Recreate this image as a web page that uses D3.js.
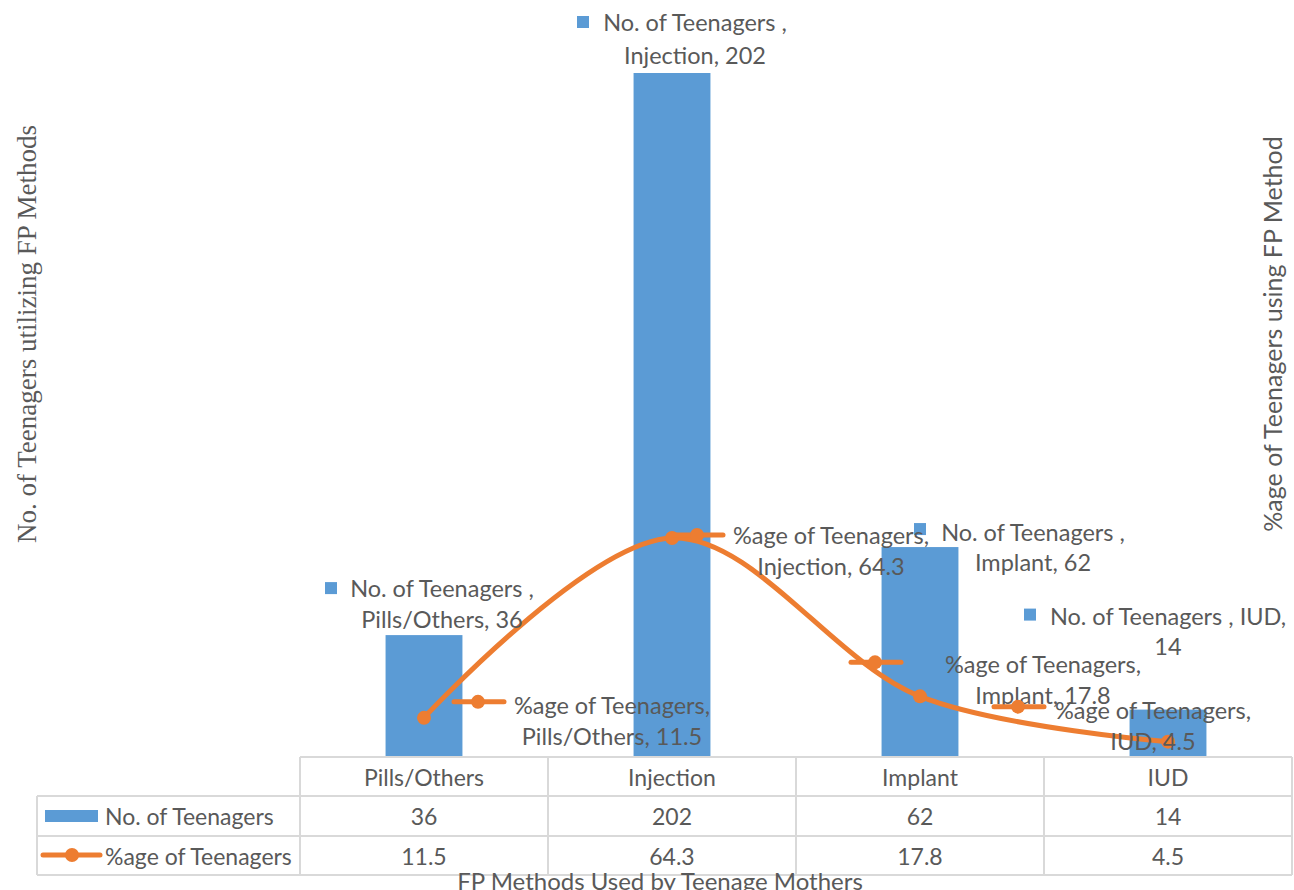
<!DOCTYPE html>
<html><head><meta charset="utf-8">
<script src="https://cdn.jsdelivr.net/npm/d3@7"></script>
<style>
body{margin:0;background:#fff}
text{font-family:Lato,"Open Sans",sans-serif;fill:#595959}
</style></head>
<body><svg id="c" width="1294" height="890"></svg>
<script>
const categories = ["Pills/Others","Injection","Implant","IUD"];
const teenCounts = [36,202,62,14];
const teenPercent = [11.5,64.3,17.8,4.5];
const seriesNames = ["No. of Teenagers","%age of Teenagers"];
const xTitle = "FP Methods Used by Teenage Mothers";
const yLeftTitle = "No. of Teenagers utilizing FP Methods";
const yRightTitle = "%age of Teenagers using FP Method";

const BLUE="#5B9BD5", ORANGE="#ED7D31", GRID="#D9D9D9";
const svg=d3.select("#c");
const plotL=300, plotR=1292, base=757;
const x=d3.scaleBand().domain(categories).range([plotL,plotR]).padding(0);
const yL=d3.scaleLinear().domain([0,202]).range([base,73]);
const yR=d3.scaleLinear().domain([0,64.3]).range([base,538]);
const bw=x.bandwidth()*0.31;
const cx=c=>x(c)+x.bandwidth()/2;

// bars
svg.append("g").selectAll("rect").data(categories).join("rect")
  .attr("x",c=>cx(c)-bw/2).attr("width",bw)
  .attr("y",(c,i)=>yL(teenCounts[i])).attr("height",(c,i)=>base-yL(teenCounts[i]))
  .attr("fill",BLUE);

// line
const pts=categories.map((c,i)=>[cx(c),yR(teenPercent[i])]);
svg.append("path").attr("d",d3.line().curve(d3.curveCatmullRom.alpha(0.5))(pts))
  .attr("fill","none").attr("stroke",ORANGE).attr("stroke-width",5).attr("stroke-linecap","round");
svg.append("g").selectAll("circle").data(pts).join("circle")
  .attr("cx",d=>d[0]).attr("cy",d=>d[1]).attr("r",7).attr("fill",ORANGE);

const FS=23.5, TFS=23;
function lineKey(g,kx,ky,len1,len2){
  g.append("line").attr("x1",kx-len1).attr("x2",kx+len2).attr("y1",ky).attr("y2",ky)
   .attr("stroke",ORANGE).attr("stroke-width",5).attr("stroke-linecap","round");
  g.append("circle").attr("cx",kx).attr("cy",ky).attr("r",7).attr("fill",ORANGE);
}
function textBlock(g,tx,ty,lines,lh){
  lines.forEach((t,j)=>g.append("text").attr("x",tx).attr("y",ty+j*lh)
    .attr("text-anchor","middle").attr("dominant-baseline","central")
    .style("font-size",FS+"px").text(t));
}
// bar data labels (offsets from bar top-center)
const barLab=[{kx:-93,ky:-47,tx:18,ty:-47,lh:31},{kx:-89,ky:-51,tx:23,ty:-51,lh:33},
              {kx:0,ky:-18,tx:113,ty:-15,lh:30},{kx:-138,ky:-95,tx:0,ty:-94,lh:30}];
const gl=svg.append("g");
categories.forEach((c,i)=>{
  const px=cx(c), py=yL(teenCounts[i]), L=barLab[i];
  gl.append("rect").attr("x",px+L.kx-6).attr("y",py+L.ky-6).attr("width",12).attr("height",12).attr("fill",BLUE);
  const lines = i===3 ? [seriesNames[0]+" , "+c+",", String(teenCounts[i])]
                      : [seriesNames[0]+" ,", c+", "+teenCounts[i]];
  textBlock(gl,px+L.tx,py+L.ty,lines,L.lh);
});
// line data labels (offsets from point)
const lineLab=[{kx:54,ky:-16,tx:188,ty:-13},{kx:25,ky:-3,tx:159,ty:-3},
               {kx:-45,ky:-34,tx:123,ty:-32},{kx:-150,ky:-35,tx:-15,ty:-32}];
categories.forEach((c,i)=>{
  const [px,py]=pts[i], L=lineLab[i];
  lineKey(gl,px+L.kx,py+L.ky,24,26);
  textBlock(gl,px+L.tx,py+L.ty,[seriesNames[1]+",", c+", "+teenPercent[i]],31);
});

// data table
const tb=svg.append("g").attr("stroke",GRID).attr("stroke-width",2);
const rows=[757,796,836,875], tL=37;
tb.append("line").attr("x1",plotL).attr("x2",plotR).attr("y1",rows[0]).attr("y2",rows[0]);
rows.slice(1).forEach(y=>tb.append("line").attr("x1",tL).attr("x2",plotR).attr("y1",y).attr("y2",y));
tb.append("line").attr("x1",tL).attr("x2",tL).attr("y1",rows[1]).attr("y2",rows[3]);
[plotL,...categories.map(c=>x(c)+x.bandwidth())].forEach(xx=>
  tb.append("line").attr("x1",xx).attr("x2",xx).attr("y1",rows[0]).attr("y2",rows[3]));
const tt=svg.append("g");
categories.forEach((c,i)=>{
  const mid=cx(c);
  [[c,rows[0]],[String(teenCounts[i]),rows[1]],[String(teenPercent[i]),rows[2]]].forEach(([t,y0],k)=>
    tt.append("text").attr("x",mid).attr("y",(y0+rows[k+1])/2).attr("text-anchor","middle")
      .attr("dominant-baseline","central").style("font-size",TFS+"px").text(t));
});
tt.append("rect").attr("x",45).attr("y",810).attr("width",53).attr("height",12).attr("fill",BLUE);
lineKey(tt,72,855,29,28);
seriesNames.forEach((s,k)=>tt.append("text").attr("x",105).attr("y",(rows[k+1]+rows[k+2])/2)
  .attr("dominant-baseline","central").style("font-size",TFS+"px").text(s));

// axis titles
svg.append("text").attr("x",660).attr("y",880).attr("text-anchor","middle")
  .attr("dominant-baseline","central").style("font-size","24px").text(xTitle);
svg.append("text").attr("transform","translate(27,334) rotate(-90)").attr("text-anchor","middle")
  .attr("dominant-baseline","central").style("font-family","'Liberation Serif','Times New Roman',serif")
  .style("font-size","27px").text(yLeftTitle);
svg.append("text").attr("transform","translate(1272,334) rotate(-90)").attr("text-anchor","middle")
  .attr("dominant-baseline","central").style("font-size","25px").text(yRightTitle);
</script></body></html>
